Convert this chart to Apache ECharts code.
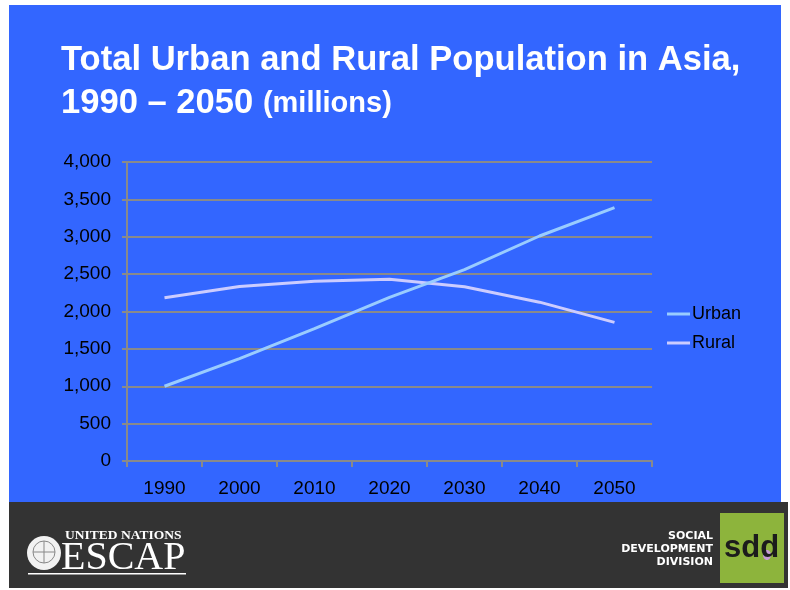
<!DOCTYPE html>
<html>
<head>
<meta charset="utf-8">
<script src="https://cdn.jsdelivr.net/npm/echarts@6/dist/echarts.min.js"></script>
<style>
html,body{margin:0;padding:0;background:#fff;}
#chart{width:790px;height:590px;}
</style>
</head>
<body>
<div id="chart"></div>
<script>
const categories = ['1990', '2000', '2010', '2020', '2030', '2040', '2050'];
const urbanValues = [1000, 1370, 1770, 2190, 2560, 3010, 3390];
const ruralValues = [2185, 2335, 2405, 2430, 2330, 2125, 1855];
const seriesNames = ['Urban', 'Rural'];
const yMin = 0, yMax = 4000, yInterval = 500;

const FONT = 'Liberation Sans, Arial, sans-serif';
const chart = echarts.init(document.getElementById('chart'), null, {renderer: 'canvas'});

const option = {
  backgroundColor: '#ffffff',
  animation: false,
  title: {
    left: 61,
    top: 39,
    padding: 0,
    text: 'Total Urban and Rural Population in Asia,\n{a|1990 – 2050} {b|(millions)}',
    textStyle: {
      color: '#ffffff',
      fontFamily: FONT,
      fontWeight: 'bold',
      fontSize: 34.6,
      lineHeight: 43,
      rich: {
        a: {color: '#ffffff', fontFamily: FONT, fontWeight: 'bold', fontSize: 34.6, lineHeight: 43},
        b: {color: '#ffffff', fontFamily: FONT, fontWeight: 'bold', fontSize: 29, lineHeight: 43}
      }
    }
  },
  legend: {
    orient: 'vertical',
    left: 667,
    top: 305,
    padding: 0,
    itemWidth: 23,
    itemHeight: 3,
    itemGap: 11,
    icon: 'rect',
    data: seriesNames,
    textStyle: {color: '#000000', fontFamily: FONT, fontSize: 18, padding: [0, 0, 0, -3]}
  },
  grid: {left: 127, right: 138, top: 162, bottom: 129, containLabel: false},
  xAxis: {
    type: 'category',
    data: categories,
    boundaryGap: true,
    axisLine: {show: true, lineStyle: {color: '#8a8a8a', width: 2}},
    axisTick: {show: true, length: 6, lineStyle: {color: '#8a8a8a', width: 2}},
    axisLabel: {color: '#000000', fontFamily: FONT, fontSize: 19, margin: 18},
    splitLine: {show: false}
  },
  yAxis: {
    type: 'value',
    min: yMin, max: yMax, interval: yInterval,
    axisLine: {show: true, lineStyle: {color: '#8a8a8a', width: 2}},
    axisTick: {show: true, length: 5, lineStyle: {color: '#8a8a8a', width: 2}},
    axisLabel: {
      color: '#000000', fontFamily: FONT, fontSize: 19, margin: 16,
      formatter: v => v.toLocaleString('en-US')
    },
    splitLine: {show: true, lineStyle: {color: '#8a8a8a', width: 2}}
  },
  series: [
    {
      name: seriesNames[0], type: 'line', data: urbanValues,
      symbol: 'none', color: '#99CCFF',
      lineStyle: {color: '#99CCFF', width: 3}, z: 3
    },
    {
      name: seriesNames[1], type: 'line', data: ruralValues,
      symbol: 'none', color: '#CCCCFF',
      lineStyle: {color: '#CCCCFF', width: 3}, z: 2
    }
  ],
  graphic: [
    {type: 'rect', z: -100, silent: true, shape: {x: 9, y: 5, width: 772, height: 497}, style: {fill: '#3366FF'}},
    {type: 'rect', z: -100, silent: true, shape: {x: 9, y: 502, width: 779, height: 86}, style: {fill: '#333333'}},
    // ESCAP logo
    {type: 'circle', z: 10, silent: true, shape: {cx: 44, cy: 553, r: 17}, style: {fill: '#f2f2f2'}},
    {type: 'circle', z: 11, silent: true, shape: {cx: 44, cy: 552, r: 11}, style: {fill: 'none', stroke: '#888', lineWidth: 1}},
    {type: 'line', z: 11, silent: true, shape: {x1: 44, y1: 541, x2: 44, y2: 563}, style: {stroke: '#888', lineWidth: 1}},
    {type: 'line', z: 11, silent: true, shape: {x1: 33, y1: 552, x2: 55, y2: 552}, style: {stroke: '#888', lineWidth: 1}},
    {type: 'text', z: 10, silent: true, left: 65, top: 529,
      style: {text: 'UNITED NATIONS', fill: '#ffffff', font: 'bold 13.5px "Liberation Serif", serif'}},
    {type: 'text', z: 10, silent: true, left: 61, top: 538,
      style: {text: 'ESCAP', fill: '#ffffff', font: '40px "Liberation Serif", serif'}},
    {type: 'rect', z: 10, silent: true, shape: {x: 28, y: 573, width: 158, height: 1.5}, style: {fill: '#ffffff'}},
    // SDD logo
    {type: 'text', z: 10, silent: true, right: 77, top: 531,
      style: {text: 'SOCIAL', fill: '#ffffff', font: 'bold 11px "DejaVu Sans", sans-serif', align: 'right'}},
    {type: 'text', z: 10, silent: true, right: 77, top: 544,
      style: {text: 'DEVELOPMENT', fill: '#ffffff', font: 'bold 11px "DejaVu Sans", sans-serif', align: 'right'}},
    {type: 'text', z: 10, silent: true, right: 77, top: 557,
      style: {text: 'DIVISION', fill: '#ffffff', font: 'bold 11px "DejaVu Sans", sans-serif', align: 'right'}},
    {type: 'rect', z: 10, silent: true, shape: {x: 720, y: 513, width: 64, height: 70}, style: {fill: '#8DB43C'}},
    {type: 'ellipse', z: 11, silent: true, shape: {cx: 767, cy: 555, rx: 4, ry: 5}, style: {fill: '#C79BD6'}},
    {type: 'text', z: 12, silent: true, left: 724, top: 533,
      style: {text: 'sdd', fill: '#1c1c1c', font: 'bold 31px "Liberation Sans", Arial, sans-serif'}}
  ]
};
chart.setOption(option);
</script>
</body>
</html>
